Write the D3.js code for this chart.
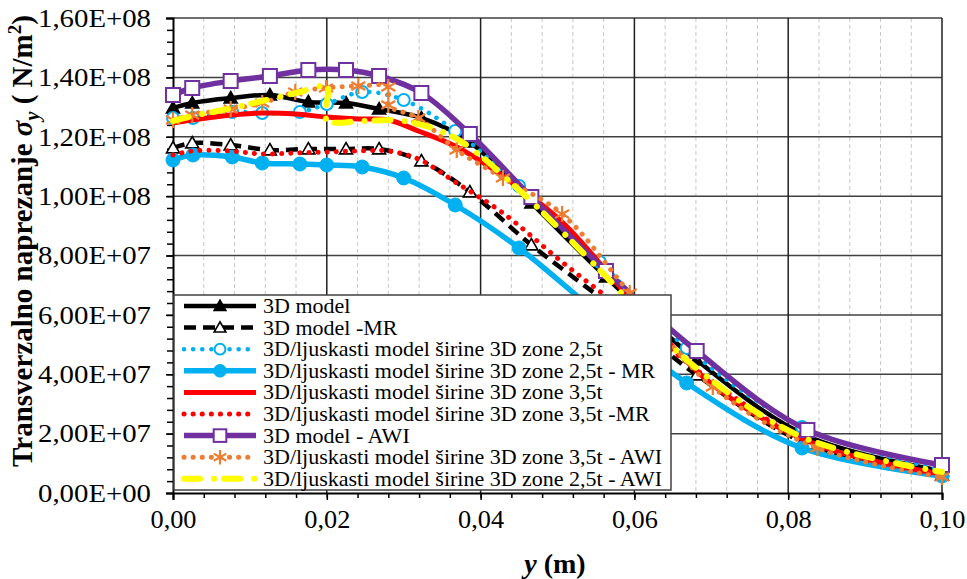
<!DOCTYPE html>
<html>
<head>
<meta charset="utf-8">
<script src="https://cdn.jsdelivr.net/npm/d3@7/dist/d3.min.js"></script>
<style>
  body { margin: 0; background: #fff; }
  text { font-family: "Liberation Serif", "Times New Roman", serif; }
</style>
</head>
<body>
<script>
// x positions (m) of the three meshes
var x3D   = [0, 0.0025, 0.0075, 0.0126, 0.0176, 0.0225, 0.0268, 0.0323, 0.0386, 0.0466, 0.0563, 0.0681, 0.0825, 0.1];
var x25   = [0, 0.0026, 0.0077, 0.0116, 0.0165, 0.02, 0.0246, 0.03, 0.0367, 0.045, 0.0555, 0.0668, 0.0818, 0.1];
var x25b  = [0, 0.0026, 0.0077, 0.0116, 0.0165, 0.02, 0.02, 0.0246, 0.03, 0.0367, 0.045, 0.0555, 0.0668, 0.0818, 0.1];
var x35   = [0, 0.0025, 0.0075, 0.0116, 0.0159, 0.0199, 0.0241, 0.028, 0.0319, 0.0369, 0.0429, 0.0506, 0.0594, 0.0702, 0.0838, 0.1];
var x35b  = [0, 0.0025, 0.0075, 0.0116, 0.0159, 0.0199, 0.0241, 0.028, 0.028, 0.0319, 0.0369, 0.0429, 0.0506, 0.0594, 0.0702, 0.0838, 0.1];

// sigma_y values (N/m2)
var s3D      = [1.2968e8, 1.3137e8, 1.3305e8, 1.3406e8, 1.3171e8, 1.3137e8, 1.2935e8, 1.2632e8, 1.1823e8, 0.9768e8, 0.7276e8, 0.4480e8, 0.1920e8, 0.0741e8];
var s3DMR    = [1.1621e8, 1.1789e8, 1.1722e8, 1.1554e8, 1.1587e8, 1.1587e8, 1.1587e8, 1.1183e8, 1.0139e8, 0.8354e8, 0.6434e8, 0.3975e8, 0.1651e8, 0.0606e8];
var s25      = [1.2632e8, 1.2632e8, 1.2834e8, 1.2800e8, 1.2834e8, 1.3103e8, 1.3507e8, 1.3238e8, 1.2194e8, 1.0341e8, 0.7781e8, 0.4884e8, 0.2223e8, 0.0775e8];
var s25MR    = [1.1217e8, 1.1385e8, 1.1318e8, 1.1116e8, 1.1082e8, 1.1048e8, 1.0981e8, 1.0611e8, 0.9701e8, 0.8253e8, 0.5996e8, 0.3705e8, 0.1516e8, 0.0573e8];
var s35      = [1.2463e8, 1.2564e8, 1.2733e8, 1.2800e8, 1.2766e8, 1.2665e8, 1.2598e8, 1.2564e8, 1.2194e8, 1.1655e8, 1.0678e8, 0.9128e8, 0.6568e8, 0.3638e8, 0.1617e8, 0.0640e8];
var s35MR    = [1.1385e8, 1.1520e8, 1.1520e8, 1.1419e8, 1.1453e8, 1.1486e8, 1.1520e8, 1.1520e8, 1.1251e8, 1.0442e8, 0.9432e8, 0.7781e8, 0.5996e8, 0.3739e8, 0.1583e8, 0.0573e8];
var s3DAWI   = [1.3406e8, 1.3642e8, 1.3878e8, 1.4046e8, 1.4248e8, 1.4248e8, 1.4046e8, 1.3474e8, 1.2093e8, 0.9971e8, 0.7478e8, 0.4783e8, 0.2122e8, 0.0943e8];
var s35AWI   = [1.2564e8, 1.2733e8, 1.2935e8, 1.3137e8, 1.3507e8, 1.3642e8, 1.3709e8, 1.3676e8, 1.3069e8, 1.2632e8, 1.1554e8, 1.0611e8, 0.9398e8, 0.6737e8, 0.3571e8, 0.1516e8, 0.0539e8];
var s25AWI   = [1.2531e8, 1.2699e8, 1.2968e8, 1.3204e8, 1.3507e8, 1.3676e8, 1.2564e8, 1.2531e8, 1.2531e8, 1.1958e8, 1.0206e8, 0.7512e8, 0.4480e8, 0.1886e8, 0.0707e8];

var names = [
  "3D model",
  "3D model -MR",
  "3D/ljuskasti model širine 3D zone 2,5t",
  "3D/ljuskasti model širine 3D zone 2,5t - MR",
  "3D/ljuskasti model širine 3D zone 3,5t",
  "3D/ljuskasti model širine 3D zone 3,5t -MR",
  "3D model - AWI",
  "3D/ljuskasti model širine 3D zone 3,5t - AWI",
  "3D/ljuskasti model širine 3D zone 2,5t - AWI"
];

var xTicks = [0, 0.02, 0.04, 0.06, 0.08, 0.1];
var yTicks = [0, 2e7, 4e7, 6e7, 8e7, 1e8, 1.2e8, 1.4e8, 1.6e8];

// styles per series
var series = [
  { x: x3D,  y: s3D,    color: "#000000", width: 4.5, dash: null,        cap: "butt",  marker: "triFill" },
  { x: x3D,  y: s3DMR,  color: "#000000", width: 4.5, dash: "12,7",      cap: "butt",  marker: "triOpen" },
  { x: x25,  y: s25,    color: "#00B0F0", width: 4.5, dash: "0.1,9",     cap: "round", marker: "circOpen" },
  { x: x25,  y: s25MR,  color: "#00B0F0", width: 5.5, dash: null,        cap: "butt",  marker: "circFill" },
  { x: x35,  y: s35,    color: "#FF0000", width: 5,   dash: null,        cap: "butt",  marker: null },
  { x: x35,  y: s35MR,  color: "#FF0000", width: 5,   dash: "0.1,9",     cap: "round", marker: null },
  { x: x3D,  y: s3DAWI, color: "#7030A0", width: 5.5, dash: null,        cap: "butt",  marker: "square" },
  { x: x35b, y: s35AWI, color: "#ED7D31", width: 5,   dash: "0.1,9",     cap: "round", marker: "star" },
  { x: x25b, y: s25AWI, color: "#FFFF00", width: 6,   dash: "16,14,0.1,10", cap: "round", marker: null }
];

var W = 967, H = 579;
var x = d3.scaleLinear().domain([0, 0.1]).range([173, 942]);
var y = d3.scaleLinear().domain([0, 1.6e8]).range([493, 18]);

var svg = d3.select("body").append("svg").attr("width", W).attr("height", H);

// minor vertical gridlines (dashed)
var xMinor = d3.range(1, 25).map(function (i) { return i * 0.004; })
  .filter(function (v) { return Math.abs(v / 0.02 - Math.round(v / 0.02)) > 1e-6; });
svg.append("g").selectAll("line").data(xMinor).enter().append("line")
  .attr("x1", function (d) { return x(d); }).attr("x2", function (d) { return x(d); })
  .attr("y1", y(1.6e8)).attr("y2", y(0))
  .attr("stroke", "#c8c8c8").attr("stroke-width", 1).attr("stroke-dasharray", "4,3");

// major gridlines
svg.append("g").selectAll("line").data(yTicks.slice(1)).enter().append("line")
  .attr("x1", x(0)).attr("x2", x(0.1))
  .attr("y1", function (d) { return y(d); }).attr("y2", function (d) { return y(d); })
  .attr("stroke", "#404040").attr("stroke-width", 1.5);
svg.append("g").selectAll("line").data(xTicks.slice(1)).enter().append("line")
  .attr("x1", function (d) { return x(d); }).attr("x2", function (d) { return x(d); })
  .attr("y1", y(1.6e8)).attr("y2", y(0))
  .attr("stroke", "#202020").attr("stroke-width", 1.5);

// axes
function fmtY(v) {
  if (v === 0) return "0,00E+00";
  var e = Math.floor(Math.log10(v) + 1e-9);
  var m = v / Math.pow(10, e);
  return m.toFixed(2).replace(".", ",") + "E+" + (e < 10 ? "0" : "") + e;
}
var yMinor = d3.range(0, 41).map(function (i) { return i * 4e6; });
svg.append("g").attr("transform", "translate(" + x(0) + ",0)")
  .call(d3.axisLeft(y).tickValues(yMinor).tickSize(6).tickFormat(""))
  .call(function (g) { g.select(".domain").remove(); g.selectAll("line").attr("stroke", "#000").attr("stroke-width", 1.5); });
var yAxis = svg.append("g").attr("transform", "translate(" + x(0) + ",0)")
  .call(d3.axisLeft(y).tickValues(yTicks).tickSize(7).tickPadding(15).tickFormat(fmtY));
yAxis.select(".domain").attr("stroke", "#000").attr("stroke-width", 2);
yAxis.selectAll("line").attr("stroke", "#000").attr("stroke-width", 1.5);
yAxis.selectAll("text").attr("font-size", 26).attr("fill", "#000")
  .attr("textLength", 113).attr("lengthAdjust", "spacingAndGlyphs")
  .style("font-family", "'Liberation Serif', serif");

var xMinorT = d3.range(0, 26).map(function (i) { return i * 0.004; });
svg.append("g").attr("transform", "translate(0," + y(0) + ")")
  .call(d3.axisBottom(x).tickValues(xMinorT).tickSize(5).tickFormat(""))
  .call(function (g) { g.select(".domain").remove(); g.selectAll("line").attr("stroke", "#000").attr("stroke-width", 1.5); });
var xAxis = svg.append("g").attr("transform", "translate(0," + y(0) + ")")
  .call(d3.axisBottom(x).tickValues(xTicks).tickSize(7).tickPadding(10)
    .tickFormat(function (d) { return d.toFixed(2).replace(".", ","); }));
xAxis.select(".domain").attr("stroke", "#000").attr("stroke-width", 2);
xAxis.selectAll("line").attr("stroke", "#000").attr("stroke-width", 1.5);
xAxis.selectAll("text").attr("font-size", 26).attr("fill", "#000")
  .attr("textLength", 46).attr("lengthAdjust", "spacingAndGlyphs")
  .style("font-family", "'Liberation Serif', serif");

// markers
function drawMarker(g, type, color, cx, cy, scale) {
  scale = scale || 1;
  if (type === "triFill" || type === "triOpen") {
    var s = 6.5 * scale;
    g.append("path")
      .attr("d", "M" + cx + "," + (cy - s) + "L" + (cx + s) + "," + (cy + s * 0.75) + "L" + (cx - s) + "," + (cy + s * 0.75) + "Z")
      .attr("fill", type === "triFill" ? "#000" : "#fff").attr("stroke", "#000").attr("stroke-width", 1.6);
  } else if (type === "circOpen") {
    g.append("circle").attr("cx", cx).attr("cy", cy).attr("r", 6 * scale)
      .attr("fill", "#fff").attr("stroke", color).attr("stroke-width", 2);
  } else if (type === "circFill") {
    g.append("circle").attr("cx", cx).attr("cy", cy).attr("r", 7 * scale)
      .attr("fill", color).attr("stroke", color).attr("stroke-width", 1);
  } else if (type === "square") {
    var h = 7 * scale;
    g.append("rect").attr("x", cx - h).attr("y", cy - h).attr("width", 2 * h).attr("height", 2 * h)
      .attr("fill", "#fff").attr("stroke", color).attr("stroke-width", 2);
  } else if (type === "star") {
    var r = 8 * scale;
    var d = "M" + cx + "," + (cy - r) + "L" + cx + "," + (cy + r) +
      "M" + (cx - r * 0.87) + "," + (cy - r * 0.5) + "L" + (cx + r * 0.87) + "," + (cy + r * 0.5) +
      "M" + (cx - r * 0.87) + "," + (cy + r * 0.5) + "L" + (cx + r * 0.87) + "," + (cy - r * 0.5);
    g.append("path").attr("d", d).attr("stroke", color).attr("stroke-width", 2.2).attr("fill", "none");
  }
}

var line = d3.line().x(function (d) { return x(d[0]); }).y(function (d) { return y(d[1]); })
  .curve(d3.curveCatmullRom.alpha(0.5));

var plot = svg.append("g");
series.forEach(function (s) {
  var pts = s.x.map(function (v, i) { return [v, s.y[i]]; });
  var g = plot.append("g");
  g.append("path").datum(pts)
    .attr("d", line)
    .attr("fill", "none").attr("stroke", s.color).attr("stroke-width", s.width)
    .attr("stroke-linecap", s.cap).attr("stroke-linejoin", "round")
    .attr("stroke-dasharray", s.dash);
  if (s.marker) pts.forEach(function (p) { drawMarker(g, s.marker, s.color, x(p[0]), y(p[1])); });
});

// legend
var lg = svg.append("g");
lg.append("rect").attr("x", 174).attr("y", 295).attr("width", 497).attr("height", 195)
  .attr("fill", "#fff").attr("stroke", "#404040").attr("stroke-width", 1.5);
series.forEach(function (s, i) {
  var ry = 306 + i * 21.6;
  lg.append("line").attr("x1", 184).attr("x2", 256).attr("y1", ry).attr("y2", ry)
    .attr("stroke", s.color).attr("stroke-width", s.width)
    .attr("stroke-linecap", s.cap).attr("stroke-dasharray", s.dash);
  if (s.marker) drawMarker(lg, s.marker, s.color, 220, ry, 0.9);
  var t = lg.append("text").attr("x", 263).attr("y", ry + 7).attr("font-size", 21).attr("fill", "#000")
    .text(names[i]);
  var len = t.node().getComputedTextLength();
  t.attr("textLength", len * 22 / 21).attr("lengthAdjust", "spacingAndGlyphs");
});

// axis titles
var yt = svg.append("text").attr("transform", "translate(32,241) rotate(-90)")
  .attr("text-anchor", "middle").attr("font-size", 29).attr("font-weight", "bold").attr("fill", "#000");
yt.append("tspan").text("Transverzalno naprezanje ");
yt.append("tspan").attr("font-style", "italic").text("σ");
yt.append("tspan").attr("font-style", "italic").attr("font-size", 20).attr("dy", 7).text("y");
yt.append("tspan").attr("dy", -7).text("  ( N/m");
yt.append("tspan").attr("font-size", 19).attr("dy", -11).text("2");
yt.append("tspan").attr("dy", 11).text(")");

var xt = svg.append("text").attr("x", 555).attr("y", 573)
  .attr("text-anchor", "middle").attr("font-size", 28).attr("font-weight", "bold").attr("fill", "#000");
xt.append("tspan").attr("font-style", "italic").text("y");
xt.append("tspan").text(" (m)");
</script>
</body>
</html>
